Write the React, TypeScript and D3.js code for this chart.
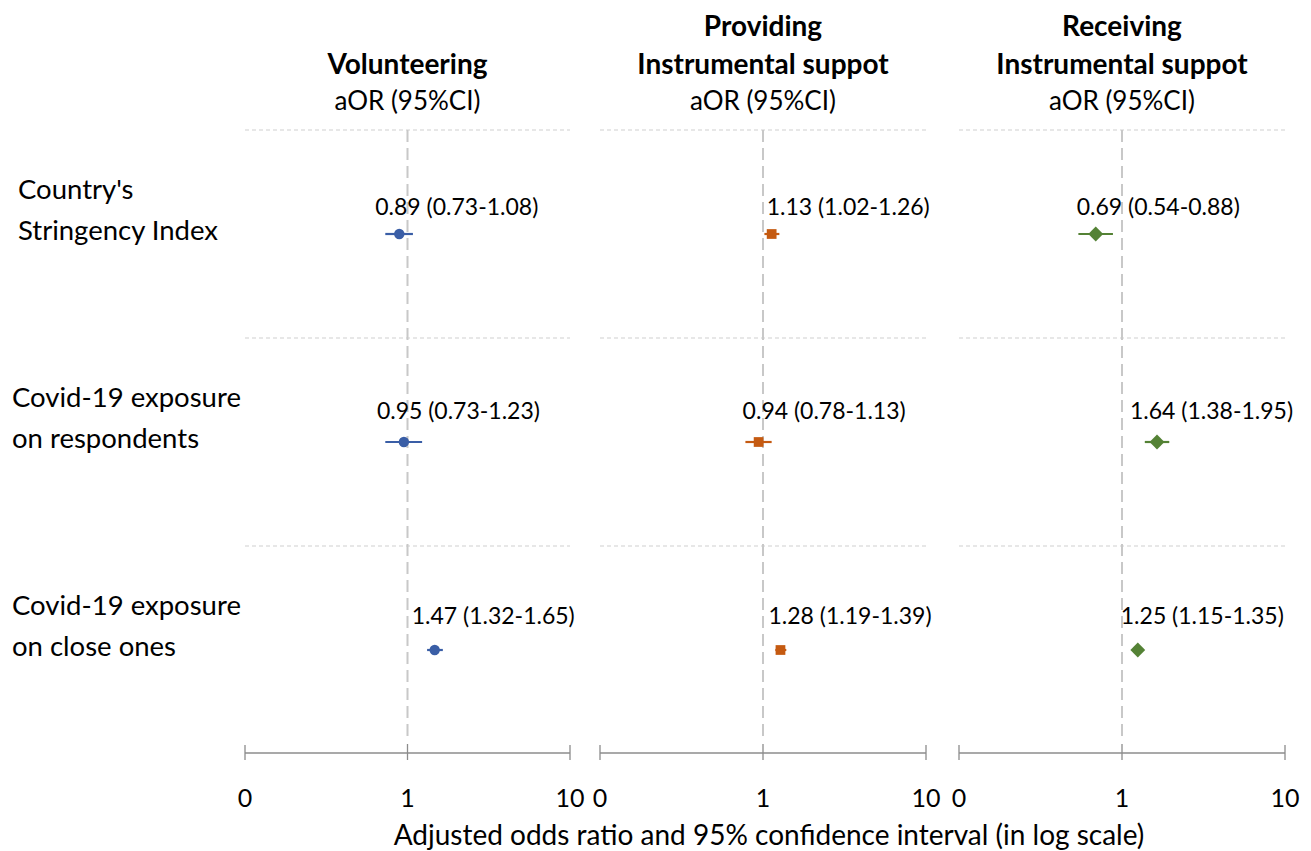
import React from "react";
import * as d3 from "d3";

const outcomes = ["Volunteering", "Providing Instrumental suppot", "Receiving Instrumental suppot"];
const outcomeTitleLines = [["Volunteering"], ["Providing", "Instrumental suppot"], ["Receiving", "Instrumental suppot"]];
const predictors = ["Country's Stringency Index", "Covid-19 exposure on respondents", "Covid-19 exposure on close ones"];
const predictorLines = [["Country's", "Stringency Index"], ["Covid-19 exposure", "on respondents"], ["Covid-19 exposure", "on close ones"]];

// [predictor][outcome]
const aOR = [
  [0.89, 1.13, 0.69],
  [0.95, 0.94, 1.64],
  [1.47, 1.28, 1.25],
];
const ciLow = [
  [0.73, 1.02, 0.54],
  [0.73, 0.78, 1.38],
  [1.32, 1.19, 1.15],
];
const ciHigh = [
  [1.08, 1.26, 0.88],
  [1.23, 1.13, 1.95],
  [1.65, 1.39, 1.35],
];
const tickValues = [0.1, 1, 10];
const tickLabels = ["0", "1", "10"];
const colors = ["#3a5ea6", "#c55a11", "#548235"];
const symbols = [d3.symbolCircle, d3.symbolSquare, d3.symbolSquare];
const symbolRotate = [0, 0, 45];
const symbolSize = [85, 95, 110];

// layout
const W = 1311, H = 851;
const panelRanges: [number, number][] = [[245, 570], [600, 926], [959, 1285]];
const labelDx = [
  [-24, -5, -19],
  [-27, -16, -27],
  [-23, -12, -17],
];
const labelDy = [-28, -32, -35];
const predictorLabelX = [18, 12, 12];
const FONT = "Lato, 'Open Sans', sans-serif";

export default function App() {
  const y = d3.scaleBand<string>().domain(predictors).range([130, 754]);
  const axisY = 753;
  const fmt = (v: number) => v.toFixed(2);

  return (
    <div style={{ position: "absolute", left: 0, top: 0 }}>
      <svg width={W} height={H} style={{ display: "block", background: "#fff" }} fontFamily={FONT}>
        {/* predictor labels */}
        {predictors.map((p, i) => {
          const cy = (y(p) as number) + y.bandwidth() / 2;
          const lines = predictorLines[i];
          return (
            <text key={p} fontSize={27.5} fill="#000">
              {lines.map((l, j) => (
                <tspan key={j} x={predictorLabelX[i]} y={cy - 46 + j * 41} dominantBaseline="central">{l}</tspan>
              ))}
            </text>
          );
        })}
        {outcomes.map((o, k) => {
          const [x0, x1] = panelRanges[k];
          const x = d3.scaleLog().domain([0.1, 10]).range([x0, x1]);
          const cx = x(1);
          const tl = outcomeTitleLines[k];
          return (
            <g key={o}>
              {/* header */}
              {tl.map((l, j) => (
                <text key={j} x={cx} y={63 - (tl.length - 1 - j) * 38} textAnchor="middle" dominantBaseline="central" fontSize={28} fontWeight="bold" fill="#000">{l}</text>
              ))}
              <text x={cx} y={100} textAnchor="middle" dominantBaseline="central" fontSize={26} fill="#000">aOR (95%CI)</text>
              {/* separators */}
              {predictors.map((p) => (
                <line key={p} x1={x0} x2={x1} y1={y(p) as number} y2={y(p) as number} stroke="#cfcfcf" strokeWidth={1.2} strokeDasharray="4 3" />
              ))}
              {/* reference line at 1 */}
              <line x1={cx} x2={cx} y1={130} y2={740} stroke="#c8c8c8" strokeWidth={2} strokeDasharray="12 6" />
              {/* axis */}
              <line x1={x0} x2={x1} y1={axisY} y2={axisY} stroke="#8c8c8c" strokeWidth={1.3} />
              {tickValues.map((t, ti) => (
                <g key={t}>
                  <line x1={x(t)} x2={x(t)} y1={axisY - (ti === 1 ? 9 : 8)} y2={axisY + 7} stroke="#8c8c8c" strokeWidth={1.3} />
                  <text x={x(t)} y={797} textAnchor="middle" dominantBaseline="central" fontSize={25} fill="#000">{tickLabels[ti]}</text>
                </g>
              ))}
              {/* data */}
              {predictors.map((p, i) => {
                const cy = (y(p) as number) + y.bandwidth() / 2;
                const v = aOR[i][k];
                const sym = d3.symbol().type(symbols[k]).size(symbolSize[k])();
                return (
                  <g key={p}>
                    <line x1={x(ciLow[i][k])} x2={x(ciHigh[i][k])} y1={cy} y2={cy} stroke={colors[k]} strokeWidth={2.2} />
                    <path d={sym as string} transform={`translate(${x(v)},${cy}) rotate(${symbolRotate[k]})`} fill={colors[k]} />
                    <text x={x(v) + labelDx[i][k]} y={cy + labelDy[i]} dominantBaseline="central" fontSize={23} fill="#000">
                      {`${fmt(v)} (${fmt(ciLow[i][k])}-${fmt(ciHigh[i][k])})`}
                    </text>
                  </g>
                );
              })}
            </g>
          );
        })}
        <text x={769} y={834} textAnchor="middle" dominantBaseline="central" fontSize={28} fill="#000">
          Adjusted odds ratio and 95% confidence interval (in log scale)
        </text>
      </svg>
    </div>
  );
}
